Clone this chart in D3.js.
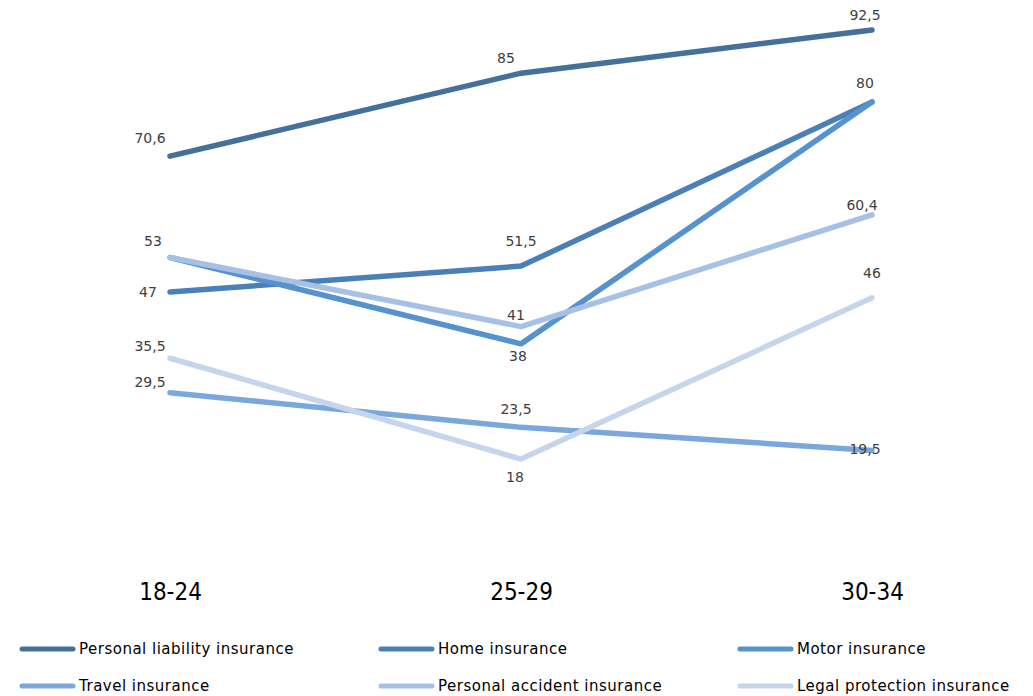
<!DOCTYPE html>
<html>
<head>
<meta charset="utf-8">
<script src="https://cdn.jsdelivr.net/npm/d3@7"></script>
<style>
  html, body { margin: 0; padding: 0; background: #ffffff; }
  svg { display: block; }
</style>
</head>
<body>
<svg id="chart" width="1033" height="696"></svg>
<script>
// Age groups on the x axis
const ageGroups = ["18-24", "25-29", "30-34"];

// Insurance products (legend order)
const seriesNames = [
  "Personal liability insurance",
  "Home insurance",
  "Motor insurance",
  "Travel insurance",
  "Personal accident insurance",
  "Legal protection insurance"
];

// Share of respondents per age group (%)
const personalLiability = [70.6, 85, 92.5];
const homeInsurance     = [47, 51.5, 80];
const motorInsurance    = [53, 38, 80];
const travelInsurance   = [29.5, 23.5, 19.5];
const personalAccident  = [53, 41, 60.4];
const legalProtection   = [35.5, 18, 46];

const seriesValues = [
  personalLiability, homeInsurance, motorInsurance,
  travelInsurance, personalAccident, legalProtection
];

const colors = ["#44719c", "#4a80b8", "#5592ce", "#7aa7dc", "#a6c1e5", "#c5d5ec"];

// Value label placement relative to each point [dx, dy]; null = no label drawn
const labelOffsets = [
  [[-20, -13], [-15, -10], [-7, -10]],
  [[-22, 5],   [0, -20],   [-7, -14]],
  [[-17, -11], [-3, 17],   null],
  [[-20, -6],  [-5, -13],  [-7, 4]],
  [null,       [-5, -7],   [-10, -5]],
  [[-20, -7],  [-6, 23],   [0, -20]]
];

const svg = d3.select("#chart");

const x = d3.scalePoint().domain(ageGroups).range([170, 872]);
const y = d3.scaleLinear().domain([0, 92.5]).range([562.7, 30]);

const fmt = v => String(v).replace(".", ",");

const line = d3.line()
  .x((d, i) => x(ageGroups[i]))
  .y(d => y(d));

// Lines
svg.append("g")
  .selectAll("path")
  .data(seriesValues)
  .join("path")
  .attr("d", d => line(d))
  .attr("fill", "none")
  .attr("stroke", (d, i) => colors[i])
  .attr("stroke-width", 5.5)
  .attr("stroke-linecap", "round")
  .attr("stroke-linejoin", "round");

// Value labels
const labelData = [];
seriesValues.forEach((vals, si) => {
  vals.forEach((v, pi) => {
    const off = labelOffsets[si][pi];
    if (off) labelData.push({ v, cat: ageGroups[pi], dx: off[0], dy: off[1] });
  });
});

svg.append("g")
  .selectAll("text")
  .data(labelData)
  .join("text")
  .attr("x", d => x(d.cat) + d.dx)
  .attr("y", d => y(d.v) + d.dy)
  .attr("text-anchor", "middle")
  .attr("font-family", "'DejaVu Sans', Verdana, sans-serif")
  .attr("font-size", 14)
  .attr("fill", "#404040")
  .text(d => fmt(d.v));

// X axis (labels only)
const xAxis = svg.append("g")
  .attr("transform", "translate(0,592)")
  .call(d3.axisBottom(x).tickSize(0).tickPadding(0));
xAxis.select(".domain").remove();
xAxis.selectAll("text")
  .attr("font-family", "'DejaVu Sans Condensed', 'DejaVu Sans', sans-serif")
  .attr("font-size", 24)
  .attr("fill", "#000000")
  .attr("dy", "0.35em");

// Legend: three columns, two rows
const legend = svg.append("g")
  .selectAll("g")
  .data(seriesNames)
  .join("g")
  .attr("transform", (d, i) => `translate(${22 + (i % 3) * 359},${649 + Math.floor(i / 3) * 37})`);

legend.append("line")
  .attr("x1", 0).attr("x2", 51)
  .attr("y1", 0).attr("y2", 0)
  .attr("stroke", (d, i) => colors[i])
  .attr("stroke-width", 5)
  .attr("stroke-linecap", "round");

legend.append("text")
  .attr("x", 57)
  .attr("y", 0)
  .attr("dy", "0.35em")
  .attr("font-family", "'DejaVu Sans', Verdana, sans-serif")
  .attr("font-size", 15)
  .attr("letter-spacing", 0.5)
  .attr("fill", "#000000")
  .text(d => d);
</script>
</body>
</html>
